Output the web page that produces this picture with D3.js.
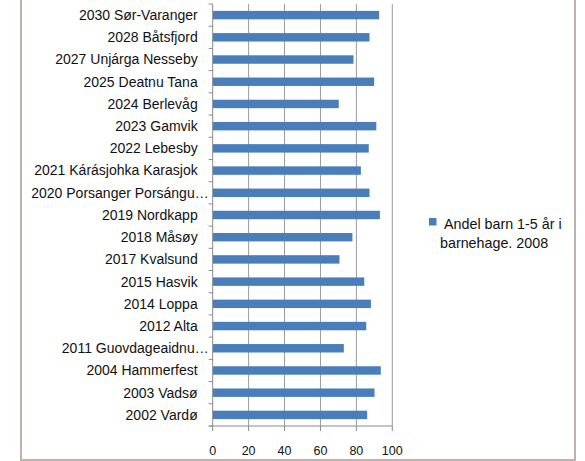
<!DOCTYPE html>
<html>
<head>
<meta charset="utf-8">
<script src="https://cdn.jsdelivr.net/npm/d3@7"></script>
<style>
  html, body { margin: 0; padding: 0; background: #fff; }
  svg { display: block; font-family: "Liberation Sans", Arial, sans-serif; }
  .cat-label { font-size: 14px; fill: #111; }
  .tick-label { font-size: 12.5px; fill: #111; }
  .legend-text { font-size: 14.3px; fill: #111; }
</style>
</head>
<body>
<div id="chart"></div>
<script>
// kommuner, top to bottom as drawn
const municipalities = [
  '2030 Sør-Varanger', '2028 Båtsfjord', '2027 Unjárga Nesseby', '2025 Deatnu Tana',
  '2024 Berlevåg', '2023 Gamvik', '2022 Lebesby', '2021 Kárásjohka Karasjok',
  '2020 Porsanger Porsángu…', '2019 Nordkapp', '2018 Måsøy', '2017 Kvalsund',
  '2015 Hasvik', '2014 Loppa', '2012 Alta', '2011 Guovdageaidnu…',
  '2004 Hammerfest', '2003 Vadsø', '2002 Vardø'
];
const shareInKindergarten = [
  92.7, 87.3, 78.4, 89.9, 70.2, 91.1, 86.9, 82.5,
  87.3, 93.1, 77.8, 70.6, 84.4, 88.1, 85.5, 73.0,
  93.6, 90.1, 86.0
];
const xTicks = [0, 20, 40, 60, 80, 100];
const seriesName = ['Andel barn 1-5 år i', 'barnehage. 2008'];

const W = 585, H = 461;
const m = { top: 4, left: 212.7, right: 392.3, bottom: 426 };
const barColor = '#4a7ebb';

const svg = d3.select('#chart').append('svg').attr('width', W).attr('height', H);

// outer chart frame (top edge is cut off in the picture)
svg.append('path')
  .attr('d', `M21,-5 V460 H575 V-5`)
  .attr('fill', 'none').attr('stroke', '#bcb1ad').attr('stroke-width', 2);

const x = d3.scaleLinear().domain([0, 100]).range([m.left, m.right]);
const y = d3.scaleBand().domain(municipalities).range([m.top, m.bottom])
  .paddingInner(0.62).paddingOuter(0.31);

// gridlines
svg.append('g').selectAll('line').data(xTicks.slice(1)).join('line')
  .attr('x1', d => x(d)).attr('x2', d => x(d))
  .attr('y1', m.top).attr('y2', m.bottom)
  .attr('stroke', '#9a9a9a').attr('stroke-width', 1);

// bars
svg.append('g').selectAll('rect').data(municipalities).join('rect')
  .attr('x', x(0))
  .attr('y', d => y(d))
  .attr('width', (d, i) => x(shareInKindergarten[i]) - x(0))
  .attr('height', y.bandwidth())
  .attr('fill', barColor);

// category axis with ticks between categories
const step = y.step();
const boundaries = d3.range(municipalities.length + 1).map(i => m.top + i * step);
const yAxis = svg.append('g');
yAxis.append('line')
  .attr('x1', x(0)).attr('x2', x(0)).attr('y1', m.top).attr('y2', m.bottom)
  .attr('stroke', '#8a8a8a');
yAxis.selectAll('.ytick').data(boundaries).join('line')
  .attr('x1', x(0) - 4).attr('x2', x(0))
  .attr('y1', d => d).attr('y2', d => d)
  .attr('stroke', '#8a8a8a');
yAxis.selectAll('text').data(municipalities).join('text')
  .attr('class', 'cat-label')
  .attr('x', d => d.endsWith('…') ? x(0) - 4 : x(0) - 15)
  .attr('y', d => y(d) + y.bandwidth() / 2)
  .attr('dy', '0.35em').attr('text-anchor', 'end')
  .text(d => d);

// value axis
const xAxis = svg.append('g');
xAxis.append('line')
  .attr('x1', x(0) - 4).attr('x2', x(100)).attr('y1', m.bottom).attr('y2', m.bottom)
  .attr('stroke', '#8a8a8a');
xAxis.selectAll('.xtick').data(xTicks).join('line')
  .attr('x1', d => x(d)).attr('x2', d => x(d))
  .attr('y1', m.bottom).attr('y2', m.bottom + 5)
  .attr('stroke', '#8a8a8a');
xAxis.selectAll('text').data(xTicks).join('text')
  .attr('class', 'tick-label')
  .attr('x', d => x(d)).attr('y', 455)
  .attr('text-anchor', 'middle')
  .text(d => d);

// legend
const lg = svg.append('g');
lg.append('rect').attr('x', 429).attr('y', 218).attr('width', 7.5).attr('height', 7.5)
  .attr('fill', barColor);
lg.selectAll('text').data(seriesName).join('text')
  .attr('class', 'legend-text')
  .attr('x', (d, i) => i === 0 ? 444 : 440)
  .attr('y', (d, i) => 229 + i * 18.7)
  .text(d => d);
</script>
</body>
</html>
